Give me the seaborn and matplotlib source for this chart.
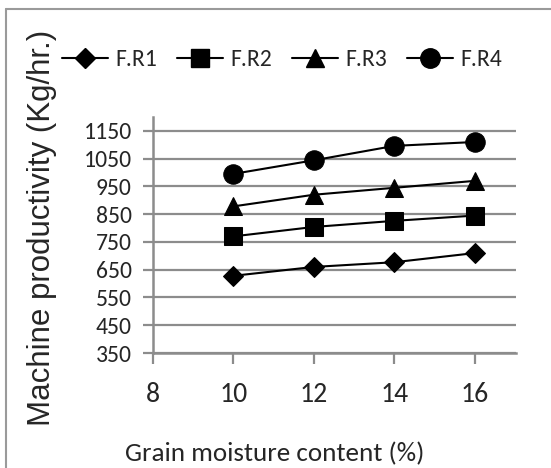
import pandas as pd
import seaborn as sns
import matplotlib.pyplot as plt
from matplotlib.lines import Line2D

# values
moisture = [10, 12, 14, 16]
fr1 = [628, 660, 677, 710]
fr2 = [770, 804, 826, 845]
fr3 = [878, 920, 945, 970]
fr4 = [995, 1044, 1096, 1110]
series = ['F.R1', 'F.R2', 'F.R3', 'F.R4']
y_ticks = [350, 450, 550, 650, 750, 850, 950, 1050, 1150]
x_ticks = [8, 10, 12, 14, 16]

df = pd.DataFrame({
    'moisture': moisture * 4,
    'productivity': fr1 + fr2 + fr3 + fr4,
    'rate': [s for s in series for _ in moisture],
})

sns.set_style('white')
narrow = ['Carlito', 'Liberation Sans Narrow', 'Archivo Narrow', 'DejaVu Sans']
plt.rcParams['font.family'] = narrow

fig = plt.figure(figsize=(5.51, 4.68), dpi=100)
ax = fig.add_axes([0.277, 0.2457, 0.6595, 0.5043])

marker_map = {'F.R1': 'D', 'F.R2': 's', 'F.R3': '^', 'F.R4': 'o'}
size_map = {'F.R1': 10, 'F.R2': 13, 'F.R3': 13, 'F.R4': 14}

# grid first so the lines sit on top
for v in y_ticks:
    ax.axhline(v, color='#8c8c8c', lw=1.6, zorder=0)

sns.lineplot(data=df, x='moisture', y='productivity', hue='rate', style='rate',
             palette=['black'] * 4, markers=marker_map, dashes=False,
             linewidth=1.5, markersize=12, markeredgecolor='black', ax=ax,
             legend=False)
for line, s in zip(ax.lines[-4:], series):
    line.set_markersize(size_map[s])

ax.set_xlim(8, 17.02)
ax.set_ylim(350, 1200)
ax.set_xticks(x_ticks)
ax.set_yticks(y_ticks)
ax.tick_params(axis='y', labelsize=17, length=7, width=1.6, color='#8c8c8c', pad=8)
ax.tick_params(axis='x', labelsize=20, length=8, width=1.6, color='#8c8c8c', pad=13)
ax.tick_params(left=True, bottom=True)

for side in ['top', 'right']:
    ax.spines[side].set_visible(False)
for side in ['left', 'bottom']:
    ax.spines[side].set_color('#8c8c8c')
    ax.spines[side].set_linewidth(1.8)

ax.set_xlabel('')
ax.set_ylabel('')
fig.text(42 / 551, 1 - 228 / 468, 'Machine productivity (Kg/hr.)', rotation=90,
         ha='center', va='center', fontsize=22.5, family=['Liberation Sans', 'DejaVu Sans'])
fig.text(275 / 551, 1 - 461 / 468, 'Grain moisture content (%)',
         ha='center', va='baseline', fontsize=19.5)

handles = [Line2D([], [], color='black', lw=1.5, marker=marker_map[s],
                  markersize=size_map[s]) for s in series]
fig.legend(handles, series, loc='center left', bbox_to_anchor=(62 / 551, 1 - 60 / 468),
           ncol=4, frameon=False, fontsize=17, handlelength=1.95,
           handletextpad=0.3, columnspacing=0.85, borderpad=0, borderaxespad=0)

# partial outer frame (top and left) seen in the source image
fig.add_artist(Line2D([6 / 551, 1], [1 - 9 / 468, 1 - 9 / 468], color='#9a9a9a', lw=1.5))
fig.add_artist(Line2D([6 / 551, 6 / 551], [0, 1 - 9 / 468], color='#9a9a9a', lw=1.5))

fig.savefig('out.png', dpi=100)
